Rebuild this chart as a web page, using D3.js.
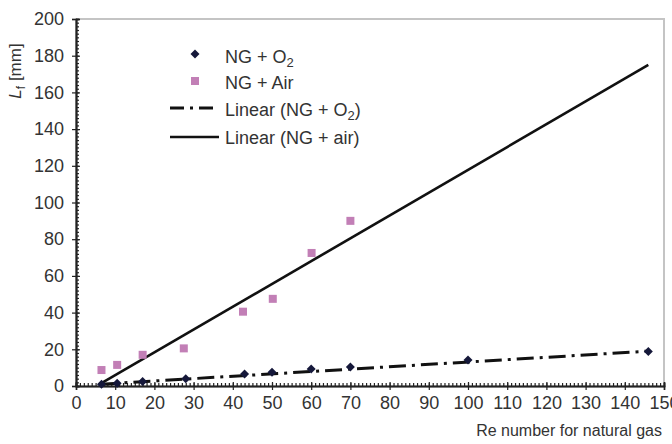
<!DOCTYPE html>
<html>
<head>
<meta charset="utf-8">
<script src="https://cdn.jsdelivr.net/npm/d3@7"></script>
<style>
  html, body { margin: 0; padding: 0; background: #fff; }
  svg { display: block; font-family: "Liberation Sans", Arial, sans-serif; }
</style>
</head>
<body>
<div id="chart"></div>
<script>
// values
const o2Re = [6.5, 10.5, 17, 28, 43, 50, 60, 70, 100, 146];
const o2Lf = [1, 1.5, 2.5, 4, 6.5, 7.5, 9.2, 10.4, 14.2, 18.8];
const airRe = [6.5, 10.5, 17, 27.5, 42.6, 50.2, 60.1, 70];
const airLf = [8.7, 11.5, 17, 20.5, 40.5, 47.5, 72.5, 90];
// trend line endpoints as drawn
const o2TrendRe = [6.5, 146];
const o2TrendLf = [1, 19];
const airTrendRe = [6.5, 146];
const airTrendLf = [1.5, 175];
const xTicks = d3.range(0, 151, 10);
const yTicks = d3.range(0, 201, 20);
const legendLabels = ["NG + O", "NG + Air", "Linear (NG + O", "Linear (NG + air)"];

const width = 672, height = 444;
const margin = { top: 19, right: 8, bottom: 58, left: 76 };

const svg = d3.select("#chart").append("svg")
  .attr("width", width)
  .attr("height", height);

const x = d3.scaleLinear().domain([0, 150]).range([margin.left, width - margin.right]);
const y = d3.scaleLinear().domain([0, 200]).range([height - margin.bottom, margin.top]);

const axisColor = "#222";
const textColor = "#333";

// gray frame on top and right
svg.append("path")
  .attr("d", `M${x(0)},${y(200)}H${x(150)}V${y(0)}`)
  .attr("fill", "none")
  .attr("stroke", "#c4c4c4")
  .attr("stroke-width", 2);

// y axis
svg.append("g")
  .attr("transform", `translate(${x(0)},0)`)
  .call(d3.axisLeft(y).tickValues(yTicks).tickSize(4).tickPadding(8));
svg.append("g")
  .attr("transform", `translate(${x(0)},0)`)
  .call(d3.axisLeft(y).tickValues(d3.range(0, 201, 2)).tickSize(-3).tickFormat(""));
svg.append("g")
  .attr("transform", `translate(${x(0)},0)`)
  .call(d3.axisLeft(y).tickValues(yTicks).tickSize(-4).tickFormat(""));

// x axis
svg.append("g")
  .attr("transform", `translate(0,${y(0)})`)
  .call(d3.axisBottom(x).tickValues(xTicks).tickSize(4).tickPadding(6));
svg.append("g")
  .attr("transform", `translate(0,${y(0)})`)
  .call(d3.axisBottom(x).tickValues(d3.range(0, 151, 1)).tickSize(-3).tickFormat(""));
svg.append("g")
  .attr("transform", `translate(0,${y(0)})`)
  .call(d3.axisBottom(x).tickValues(xTicks).tickSize(-4).tickFormat(""));

svg.selectAll(".domain").attr("stroke", axisColor).attr("stroke-width", 1.6);
svg.selectAll(".tick line").attr("stroke", axisColor).attr("stroke-width", 1.2);
svg.selectAll(".tick text")
  .attr("fill", textColor)
  .attr("font-size", 18)
  .attr("font-family", "Liberation Sans, Arial, sans-serif");

// trend lines
const line = d3.line().x((d) => x(d[0])).y((d) => y(d[1]));
svg.append("path")
  .datum(airTrendRe.map((v, i) => [v, airTrendLf[i]]))
  .attr("d", line)
  .attr("fill", "none")
  .attr("stroke", "#111")
  .attr("stroke-width", 2.6);
svg.append("path")
  .datum(o2TrendRe.map((v, i) => [v, o2TrendLf[i]]))
  .attr("d", line)
  .attr("fill", "none")
  .attr("stroke", "#111")
  .attr("stroke-width", 3)
  .attr("stroke-dasharray", "17 6 3 6");

// NG + Air squares
svg.append("g")
  .selectAll("rect")
  .data(airRe.map((v, i) => [v, airLf[i]]))
  .join("rect")
  .attr("x", (d) => x(d[0]) - 4)
  .attr("y", (d) => y(d[1]) - 4)
  .attr("width", 8)
  .attr("height", 8)
  .attr("fill", "#c27fb6");

// NG + O2 diamonds (square turned 45 degrees)
const diamond = "M0,-4.5L4.5,0L0,4.5L-4.5,0Z";
svg.append("g")
  .selectAll("path")
  .data(o2Re.map((v, i) => [v, o2Lf[i]]))
  .join("path")
  .attr("d", diamond)
  .attr("transform", (d) => `translate(${x(d[0])},${y(d[1])})`)
  .attr("fill", "#15183a");

// legend
const legend = svg.append("g").attr("font-size", 18).attr("fill", textColor);
const rowY = [57, 83, 110, 138];
const textX = 225;
legend.append("path")
  .attr("d", diamond)
  .attr("transform", `translate(195,${rowY[0] - 3})`)
  .attr("fill", "#15183a");
legend.append("rect")
  .attr("x", 191).attr("y", rowY[1] - 6)
  .attr("width", 8).attr("height", 8)
  .attr("fill", "#c27fb6");
legend.append("line")
  .attr("x1", 170).attr("x2", 219)
  .attr("y1", rowY[2] - 2).attr("y2", rowY[2] - 2)
  .attr("stroke", "#111").attr("stroke-width", 3)
  .attr("stroke-dasharray", "14 6 3 6");
legend.append("line")
  .attr("x1", 170).attr("x2", 219)
  .attr("y1", rowY[3] - 1).attr("y2", rowY[3] - 1)
  .attr("stroke", "#111").attr("stroke-width", 2.6);

legendLabels.forEach((label, i) => {
  const t = legend.append("text")
    .attr("x", textX)
    .attr("y", rowY[i] + 6)
    .text(label);
  if (i === 0 || i === 2) {
    t.append("tspan").attr("font-size", 13).attr("dy", 4).text("2");
    if (i === 2) t.append("tspan").attr("dy", -4).text(")");
  }
});

// axis titles
const yTitle = svg.append("text")
  .attr("transform", "translate(21,71) rotate(-90)")
  .attr("text-anchor", "middle")
  .attr("font-size", 17)
  .attr("fill", textColor);
yTitle.append("tspan").attr("font-style", "italic").text("L");
yTitle.append("tspan").attr("font-size", 12).attr("dy", 4).text("f");
yTitle.append("tspan").attr("dy", -4).text(" [mm]");

svg.append("text")
  .attr("x", 662)
  .attr("y", 436)
  .attr("text-anchor", "end")
  .attr("font-size", 16)
  .attr("fill", textColor)
  .text("Re number for natural gas");
</script>
</body>
</html>
